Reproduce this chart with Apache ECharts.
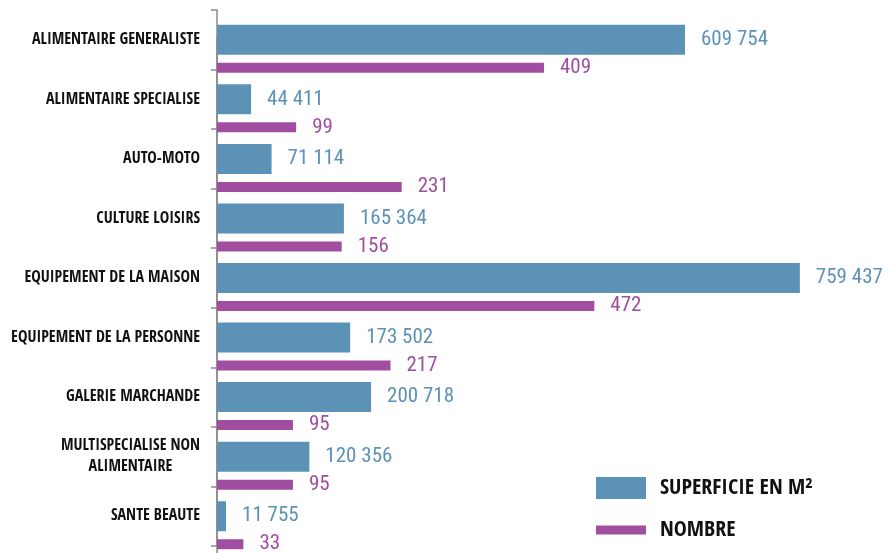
<!DOCTYPE html>
<html>
<head>
<meta charset="utf-8">
<script src="https://cdn.jsdelivr.net/npm/echarts@6/dist/echarts.min.js"></script>
<style>
  html, body { margin: 0; padding: 0; background: #fff; }
  #chart { width: 888px; height: 553px; }
</style>
</head>
<body>
<div id="chart"></div>
<script>
const categories = [
  'ALIMENTAIRE GENERALISTE',
  'ALIMENTAIRE SPECIALISE',
  'AUTO-MOTO',
  'CULTURE LOISIRS',
  'EQUIPEMENT DE LA MAISON',
  'EQUIPEMENT DE LA PERSONNE',
  'GALERIE MARCHANDE',
  'MULTISPECIALISE NON\nALIMENTAIRE',
  'SANTE BEAUTE'
]
const superficie = [609754, 44411, 71114, 165364, 759437, 173502, 200718, 120356, 11755]
const nombre = [409, 99, 231, 156, 472, 217, 95, 95, 33]

const BLUE = '#5b92b6'
const PURPLE = '#a14ea1'
const LABEL_FONT = '"Open Sans Condensed", "Roboto Condensed", sans-serif'
const NUM_FONT = '"Roboto Condensed", sans-serif'

const fmt = v => String(v).replace(/\B(?=(\d{3})+(?!\d))/g, ' ')

const chart = echarts.init(document.getElementById('chart'))

chart.setOption({
  animation: false,
  grid: [
    { left: 217, width: 614, top: 10, height: 536, outerBoundsMode: 'none', containLabel: false },
    { left: 217, width: 614, top: 38, height: 536, outerBoundsMode: 'none', containLabel: false }
  ],
  xAxis: [
    { gridIndex: 0, type: 'value', min: 0, max: 800000, show: false },
    { gridIndex: 1, type: 'value', min: 0, max: 768, show: false }
  ],
  yAxis: [
    {
      gridIndex: 0,
      type: 'category',
      inverse: true,
      data: categories,
      axisLine: { show: true, lineStyle: { color: '#8a8a8a', width: 1.5 } },
      axisTick: { show: true, inside: false, length: 6, lineStyle: { color: '#8a8a8a', width: 1.5 } },
      axisLabel: {
        margin: 17,
        fontFamily: LABEL_FONT,
        fontSize: 16,
        fontWeight: 'bold',
        color: '#111',
        lineHeight: 21,
        formatter: v => v.split('\n').map(s => '{c|' + s + '}').join('\n'),
        rich: {
          c: { align: 'center', fontFamily: LABEL_FONT, fontSize: 16, fontWeight: 'bold', color: '#111', lineHeight: 21 }
        }
      }
    },
    {
      gridIndex: 1,
      type: 'category',
      inverse: true,
      data: categories,
      axisLine: { show: true, lineStyle: { color: '#8a8a8a', width: 1.5 } },
      axisTick: { show: false },
      axisLabel: { show: false }
    }
  ],
  legend: [
    {
      data: ['SUPERFICIE EN M²'],
      left: 596,
      top: 477,
      padding: 0,
      icon: 'rect',
      itemWidth: 50,
      itemHeight: 22,
      itemGap: 14,
      textStyle: { fontFamily: LABEL_FONT, fontWeight: 'bold', fontSize: 22, color: '#111', padding: [0, 0, 0, 9] }
    },
    {
      data: ['NOMBRE'],
      left: 596,
      top: 519,
      padding: 0,
      icon: 'rect',
      itemWidth: 50,
      itemHeight: 9,
      textStyle: { fontFamily: LABEL_FONT, fontWeight: 'bold', fontSize: 22, color: '#111', padding: [0, 0, 0, 9] }
    }
  ],
  series: [
    {
      name: 'SUPERFICIE EN M²',
      type: 'bar',
      xAxisIndex: 0,
      yAxisIndex: 0,
      data: superficie,
      barWidth: 30,
      itemStyle: { color: BLUE },
      label: {
        show: true,
        position: 'right',
        distance: 16,
        formatter: p => fmt(p.value),
        fontFamily: NUM_FONT,
        fontSize: 21,
        color: BLUE
      }
    },
    {
      name: 'NOMBRE',
      type: 'bar',
      xAxisIndex: 1,
      yAxisIndex: 1,
      data: nombre,
      barWidth: 10,
      itemStyle: { color: PURPLE },
      label: {
        show: true,
        position: 'right',
        distance: 16,
        formatter: p => fmt(p.value),
        fontFamily: NUM_FONT,
        fontSize: 21,
        color: PURPLE
      }
    }
  ]
})
</script>
</body>
</html>
